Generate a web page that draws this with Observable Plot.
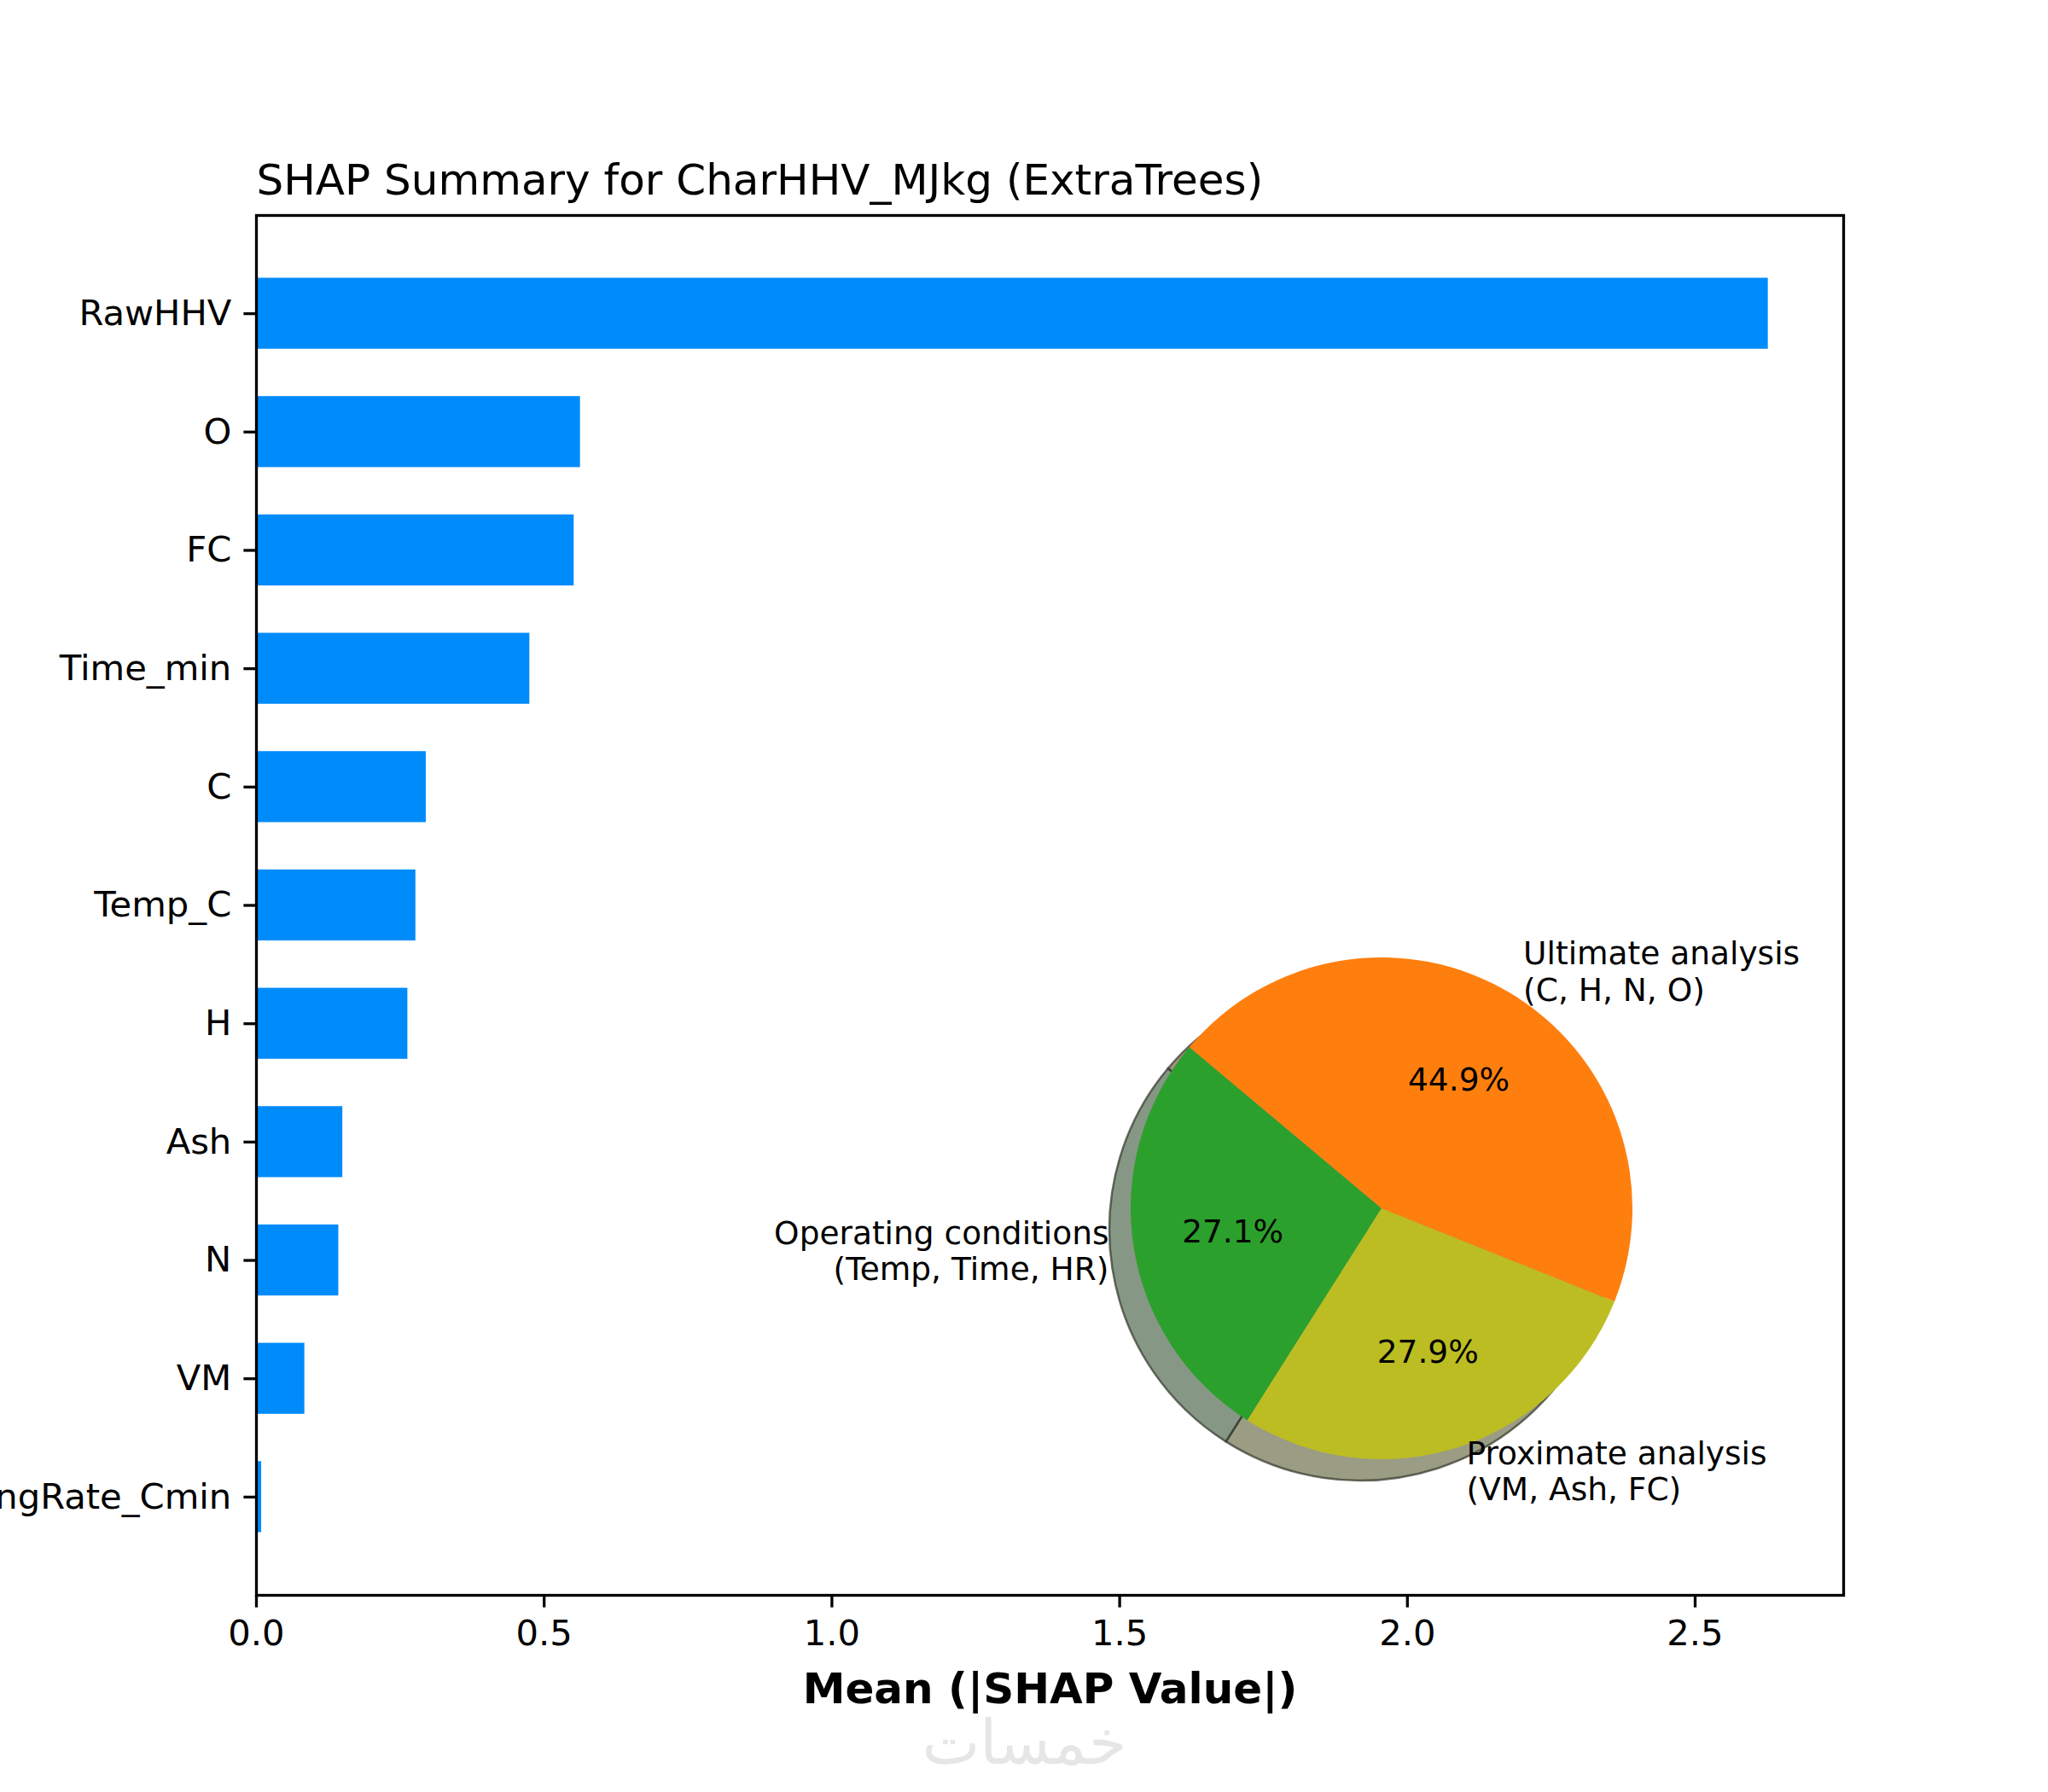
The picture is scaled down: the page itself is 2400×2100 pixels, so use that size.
<!DOCTYPE html>
<html>
<head>
<meta charset="utf-8">
<script src="https://cdn.jsdelivr.net/npm/d3@7"></script>
<script src="https://cdn.jsdelivr.net/npm/@observablehq/plot@0.6"></script>
<style>
  body { margin: 0; background: #fff; }
</style>
</head>
<body>
<div id="chart"></div>
<script>
// bar data, top to bottom
const features = ["RawHHV", "O", "FC", "Time_min", "C", "Temp_C", "H", "Ash", "N", "VM", "HeatingRate_Cmin"];
const meanShap = [2.627, 0.563, 0.552, 0.475, 0.295, 0.277, 0.263, 0.150, 0.143, 0.084, 0.009];
const xTicks = [0, 0.5, 1.0, 1.5, 2.0, 2.5];

// pie data (feature groups)
const groupNames = ["Operating conditions\n(Temp, Time, HR)", "Proximate analysis\n(VM, Ash, FC)", "Ultimate analysis\n(C, H, N, O)"];
const groupShare = [27.1, 27.9, 44.9];
const groupColors = ["#2ca02c", "#bcbd22", "#ff7f0e"];

const title = "SHAP Summary for CharHHV_MJkg (ExtraTrees)";
const xLabel = "Mean (|SHAP Value|)";

const W = 2400, H = 2100;
const fs = 41.7;      // 10pt at 300dpi
const pieFs = 37.5;   // 9pt
const bars = features.map((f, i) => ({feature: f, value: meanShap[i]}));

// inset pie geometry (pixels)
const pieCx = 1619, pieCy = 1416, pieR = 294;
const shadowDx = -25, shadowDy = 25;
const pct = d3.format(".1f");
const darker = c => { const k = d3.rgb(c); return d3.rgb(k.r * .3, k.g * .3, k.b * .3).formatHex(); };

// custom render mark: pie with shadow, labels, percentages
function pieMark() {
  const g = d3.create("svg:g").attr("transform", `translate(${pieCx},${pieCy})`);
  const arcs = d3.pie().sort(null)
    .startAngle(-50 * Math.PI / 180)
    .endAngle(-410 * Math.PI / 180)(groupShare);
  const arc = d3.arc().innerRadius(0).outerRadius(pieR);

  g.append("g").attr("transform", `translate(${shadowDx},${shadowDy})`)
    .selectAll("path").data(arcs).join("path")
    .attr("d", arc)
    .attr("fill", (d, i) => darker(groupColors[i]))
    .attr("fill-opacity", 0.5)
    .attr("stroke", "#3a3f30").attr("stroke-opacity", 0.75).attr("stroke-width", 2.5);

  g.append("g").selectAll("path").data(arcs).join("path")
    .attr("d", arc)
    .attr("fill", (d, i) => groupColors[i]);

  const pos = (d, k) => {
    const a = (d.startAngle + d.endAngle) / 2;
    return [Math.sin(a) * pieR * k, -Math.cos(a) * pieR * k];
  };

  // group labels at 1.1 r
  arcs.forEach((d, i) => {
    const [x, y] = pos(d, 1.1);
    const lines = groupNames[i].split("\n");
    const t = g.append("text")
      .attr("x", x).attr("y", y)
      .attr("font-size", pieFs)
      .attr("text-anchor", x > 0 ? "start" : "end");
    lines.forEach((l, j) => {
      t.append("tspan").attr("x", x)
        .attr("dy", j === 0 ? `${0.35 - (lines.length - 1) * 0.565}em` : "1.13em")
        .text(l);
    });
  });

  // percentages at 0.6 r
  arcs.forEach((d, i) => {
    const [x, y] = pos(d, 0.6);
    g.append("text").attr("x", x).attr("y", y).attr("dy", "0.35em")
      .attr("font-size", pieFs).attr("text-anchor", "middle")
      .text(pct(groupShare[i]) + "%");
  });
  return g.node();
}

const plot = Plot.plot({
  width: W,
  height: H,
  marginLeft: 300,
  marginRight: 240,
  marginTop: 252,
  marginBottom: 231,
  style: {fontFamily: "DejaVu Sans", fontSize: fs + "px", background: "white", color: "black"},
  x: {domain: [0, 2.758], axis: null, label: null},
  y: {type: "band", domain: features, paddingInner: 0.4, paddingOuter: 0.53, round: false, axis: null, label: null},
  marks: [
    Plot.barX(bars, {x: "value", y: "feature", fill: "#008bfb"}),
    pieMark,
    Plot.frame({stroke: "black", strokeWidth: 3.3}),
    Plot.axisX({ticks: xTicks, tickFormat: d3.format(".1f"), tickSize: 14.6, tickPadding: 14.6, strokeWidth: 3.3, fontSize: fs, label: null}),
    Plot.axisY({tickSize: 14.6, tickPadding: 14.6, strokeWidth: 3.3, fontSize: fs, label: null}),
    Plot.text([title], {frameAnchor: "top-left", textAnchor: "start", lineAnchor: "bottom", dy: -25, fontSize: 50}),
    Plot.text([xLabel], {frameAnchor: "bottom", lineAnchor: "bottom", dy: 126, fontSize: 50, fontWeight: "bold"}),
    Plot.text(["خمسات"], {frameAnchor: "bottom", lineAnchor: "middle", dx: -30, dy: 174, fontSize: 72, fill: "#e6e6e6"})
  ]
});

document.getElementById("chart").append(plot);
</script>
</body>
</html>
